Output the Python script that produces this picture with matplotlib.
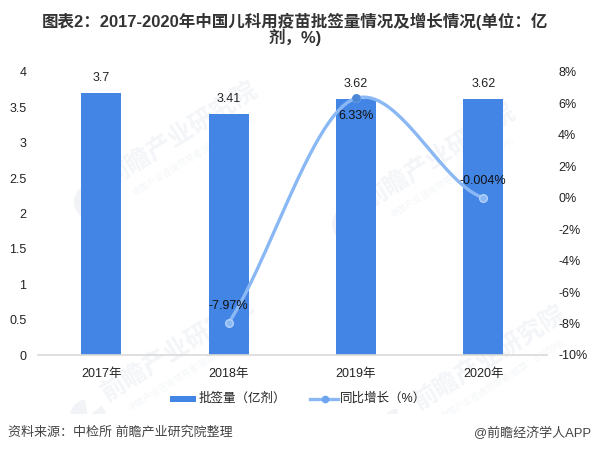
import numpy as np
import matplotlib
matplotlib.use("Agg")
import matplotlib.pyplot as plt
from matplotlib.patches import Wedge, Rectangle
from matplotlib.lines import Line2D
from matplotlib.transforms import Bbox, IdentityTransform

W, H = 592, 454
years = ["2017年", "2018年", "2019年", "2020年"]
volume = [3.7, 3.41, 3.62, 3.62]
growth_years = [1, 2, 3]
growth = [-7.97, 6.33, -0.004]
growth_labels = ["-7.97%", "6.33%", "-0.004%"]
left_ticks = [0, 0.5, 1, 1.5, 2, 2.5, 3, 3.5, 4]
left_labels = ["0", "0.5", "1", "1.5", "2", "2.5", "3", "3.5", "4"]
right_ticks = [-10, -8, -6, -4, -2, 0, 2, 4, 6, 8]
right_labels = ["-10%", "-8%", "-6%", "-4%", "-2%", "0%", "2%", "4%", "6%", "8%"]

# full-width punctuation, written as escapes so it stays full width
COLON, COMMA, LP, RP = "\uff1a", "\uff0c", "\uff08", "\uff09"
title_1 = f"图表2{COLON}2017-2020年中国儿科用疫苗批签量情况及增长情况(单位{COLON}亿"
title_2 = f"剂{COMMA}%)"
legend_bar = f"批签量{LP}亿剂{RP}"
legend_line = f"同比增长{LP}%{RP}"
source = f"资料来源{COLON}中检所 前瞻产业研究院整理"
credit = "@前瞻经济学人APP"

FONT = ["Liberation Sans", "Noto Sans CJK SC", "DejaVu Sans"]
CJK = ["Noto Sans CJK SC", "DejaVu Sans"]
plt.rcParams["font.family"] = FONT
TXT = "#222222"
BAR = "#4285E4"
LINE = "#8AB8F5"
FS = 9.0

fig = plt.figure(figsize=(W / 100, H / 100), dpi=100, facecolor="white")
ax = fig.add_axes([37.5 / W, 1 - 355 / H, (547 - 37.5) / W, (355 - 72) / H])
ax.patch.set_visible(False)
ax.set_xlim(-0.5, 3.5)
ax.set_ylim(0, 4)
for s in ["top", "left", "right"]:
    ax.spines[s].set_visible(False)
ax.spines["bottom"].set_color("#d9d9d9")
ax.spines["bottom"].set_linewidth(1.2)

x = np.arange(len(years))
ax.bar(x, volume, width=0.314, color=BAR, zorder=2)
ax.set_xticks(x, years, fontsize=FS, color=TXT)
ax.set_yticks(left_ticks, left_labels, fontsize=FS, color=TXT)
ax.tick_params(length=0)
ax.tick_params(axis="x", pad=9)
ax.tick_params(axis="y", pad=8)

for xi, v in zip(x, volume):
    ax.annotate(f"{v:g}", (xi, v), xytext=(0, 15), textcoords="offset pixels",
                ha="center", va="center", fontsize=FS, color=TXT, zorder=6)

ax2 = ax.twinx()
ax2.patch.set_visible(False)
ax2.set_ylim(-10, 8)
for s in ax2.spines.values():
    s.set_visible(False)
ax2.set_yticks(right_ticks, right_labels, fontsize=FS, color=TXT)
ax2.tick_params(length=0, pad=8)

# smooth growth curve through the data points (Hermite segments)
slopes_out = [12.4, 2.4]
slopes_in = [2.4, -2.7]
xs, ys = [], []
for i in range(len(growth) - 1):
    t = np.linspace(0, 1, 80)
    a, b = growth[i], growth[i + 1]
    xs.append(growth_years[i] + t)
    ys.append(a * (2*t**3 - 3*t**2 + 1) + slopes_out[i] * (t**3 - 2*t**2 + t)
              + b * (-2*t**3 + 3*t**2) + slopes_in[i] * (t**3 - t**2))
ax2.plot(np.concatenate(xs), np.concatenate(ys), color=LINE, lw=2.4, zorder=4,
         solid_capstyle="round")
ax2.scatter(growth_years, growth, s=30, facecolor=LINE, edgecolor="#B5D2F8",
            linewidth=1, zorder=5)
ax2.scatter([2], [6.33], s=28, facecolor="#4C87D8", zorder=5)

offs = [(0, 17), (0, -18), (0, 17)]
for xi, g, lab, o in zip(growth_years, growth, growth_labels, offs):
    ax2.annotate(lab, (xi, g), xytext=o, textcoords="offset pixels", ha="center",
                 va="center", fontsize=FS, color="#111111", zorder=7)

# watermark behind the bars, stopping above the legend band as in the reference
clip = Bbox([[0, H - 414], [W, H]])
MARK = "#8fa3bd"
for xp, yp in [(182, 135), (178, 350), (440, 157), (490, 359)]:
    t1 = fig.text(xp / W, 1 - yp / H, "前瞻产业研究院", rotation=32, fontsize=18, family=CJK,
                  color=MARK, alpha=0.11, ha="center", va="center",
                  fontweight="bold", zorder=-1)
    t2 = fig.text((xp + 12) / W, 1 - (yp + 20) / H, f"中国产业咨询领导者(股票{COLON}839599)",
                  rotation=32, fontsize=6.5, family=CJK, color=MARK, alpha=0.10,
                  ha="center", va="center", zorder=-1)
    logo = Wedge((xp - 90, H - (yp + 67)), 18, 100, 400, width=18,
                 transform=IdentityTransform(), facecolor=MARK, alpha=0.12,
                 edgecolor="none", zorder=-1)
    fig.add_artist(logo)
    for art in (t1, t2, logo):
        art.set_clip_on(True)
        art.set_clip_box(clip)

# title
fig.text(295 / W, 1 - 21 / H, title_1, ha="center", va="center", fontsize=11.9,
         fontweight="bold", color="#333333")
fig.text(295 / W, 1 - 37.5 / H, title_2, ha="center", va="center", fontsize=11.9,
         fontweight="bold", color="#333333")

# legend
LEG = 1 - 399 / H
fig.add_artist(Rectangle((170 / W, LEG - 3.2 / H), 26 / W, 6.5 / H,
                         transform=fig.transFigure, facecolor=BAR, edgecolor="none"))
fig.text(199 / W, LEG, legend_bar, ha="left", va="center", fontsize=FS, color=TXT)
fig.add_artist(Line2D([310 / W, 338 / W], [LEG, LEG], color=LINE, lw=2.4,
                      transform=fig.transFigure))
fig.add_artist(Line2D([324.5 / W], [LEG], color=LINE, marker="o", ms=5.5,
                      mfc="#6FA5EE", mec="none", transform=fig.transFigure))
fig.text(340 / W, LEG, legend_line, ha="left", va="center", fontsize=FS, color=TXT)

# footer
fig.text(8 / W, 1 - 433 / H, source, ha="left", va="center", fontsize=9.4, color="#444444")
fig.text(591 / W, 1 - 433 / H, credit, ha="right", va="center", fontsize=9.4, color="#444444")

fig.savefig("out.png", dpi=100, facecolor="white")
